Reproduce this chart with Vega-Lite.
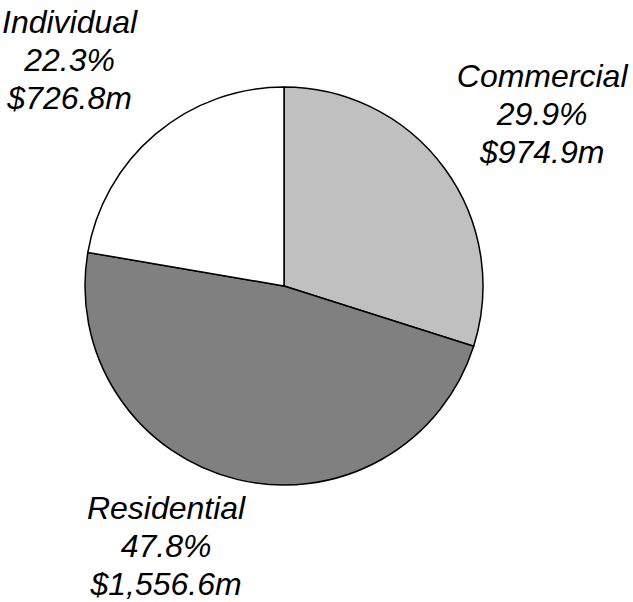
{
  "$schema": "https://vega.github.io/schema/vega-lite/v6.json",
  "width": 568,
  "height": 572,
  "autosize": "none",
  "padding": {"left": 0, "top": 0, "right": 65, "bottom": 30},
  "background": "white",
  "view": {"stroke": null},
  "config": {"text": {"font": "Liberation Sans", "fontSize": 32, "fontStyle": "italic", "lineHeight": 38, "lineBreak": "\n", "align": "center", "baseline": "middle", "color": "black"}},
  "data": {"values": [
    {"segment": "Commercial", "share": 29.9, "label": "Commercial\n29.9%\n$974.9m", "rank": 1},
    {"segment": "Residential", "share": 47.8, "label": "Residential\n47.8%\n$1,556.6m", "rank": 2},
    {"segment": "Individual", "share": 22.3, "label": "Individual\n22.3%\n$726.8m", "rank": 3}
  ]},
  "encoding": {
    "theta": {"field": "share", "type": "quantitative", "stack": true},
    "order": {"field": "rank", "type": "quantitative"}
  },
  "layer": [
    {
      "mark": {"type": "arc", "outerRadius": 199, "stroke": "black", "strokeWidth": 1.5},
      "encoding": {
        "color": {"field": "segment", "type": "nominal", "legend": null,
          "scale": {"domain": ["Commercial", "Residential", "Individual"], "range": ["#c0c0c0", "#808080", "#ffffff"]}}
      }
    },
    {
      "mark": {"type": "text", "radius": 300, "dx": 16, "dy": -32},
      "encoding": {
        "text": {"field": "label"},
        "opacity": {"condition": {"test": "datum.segment === 'Commercial'", "value": 1}, "value": 0}
      }
    },
    {
      "mark": {"type": "text", "radius": 300, "dx": -47, "dy": -68},
      "encoding": {
        "text": {"field": "label"},
        "opacity": {"condition": {"test": "datum.segment === 'Residential'", "value": 1}, "value": 0}
      }
    },
    {
      "mark": {"type": "text", "radius": 300, "dx": -21, "dy": -34},
      "encoding": {
        "text": {"field": "label"},
        "opacity": {"condition": {"test": "datum.segment === 'Individual'", "value": 1}, "value": 0}
      }
    }
  ]
}
